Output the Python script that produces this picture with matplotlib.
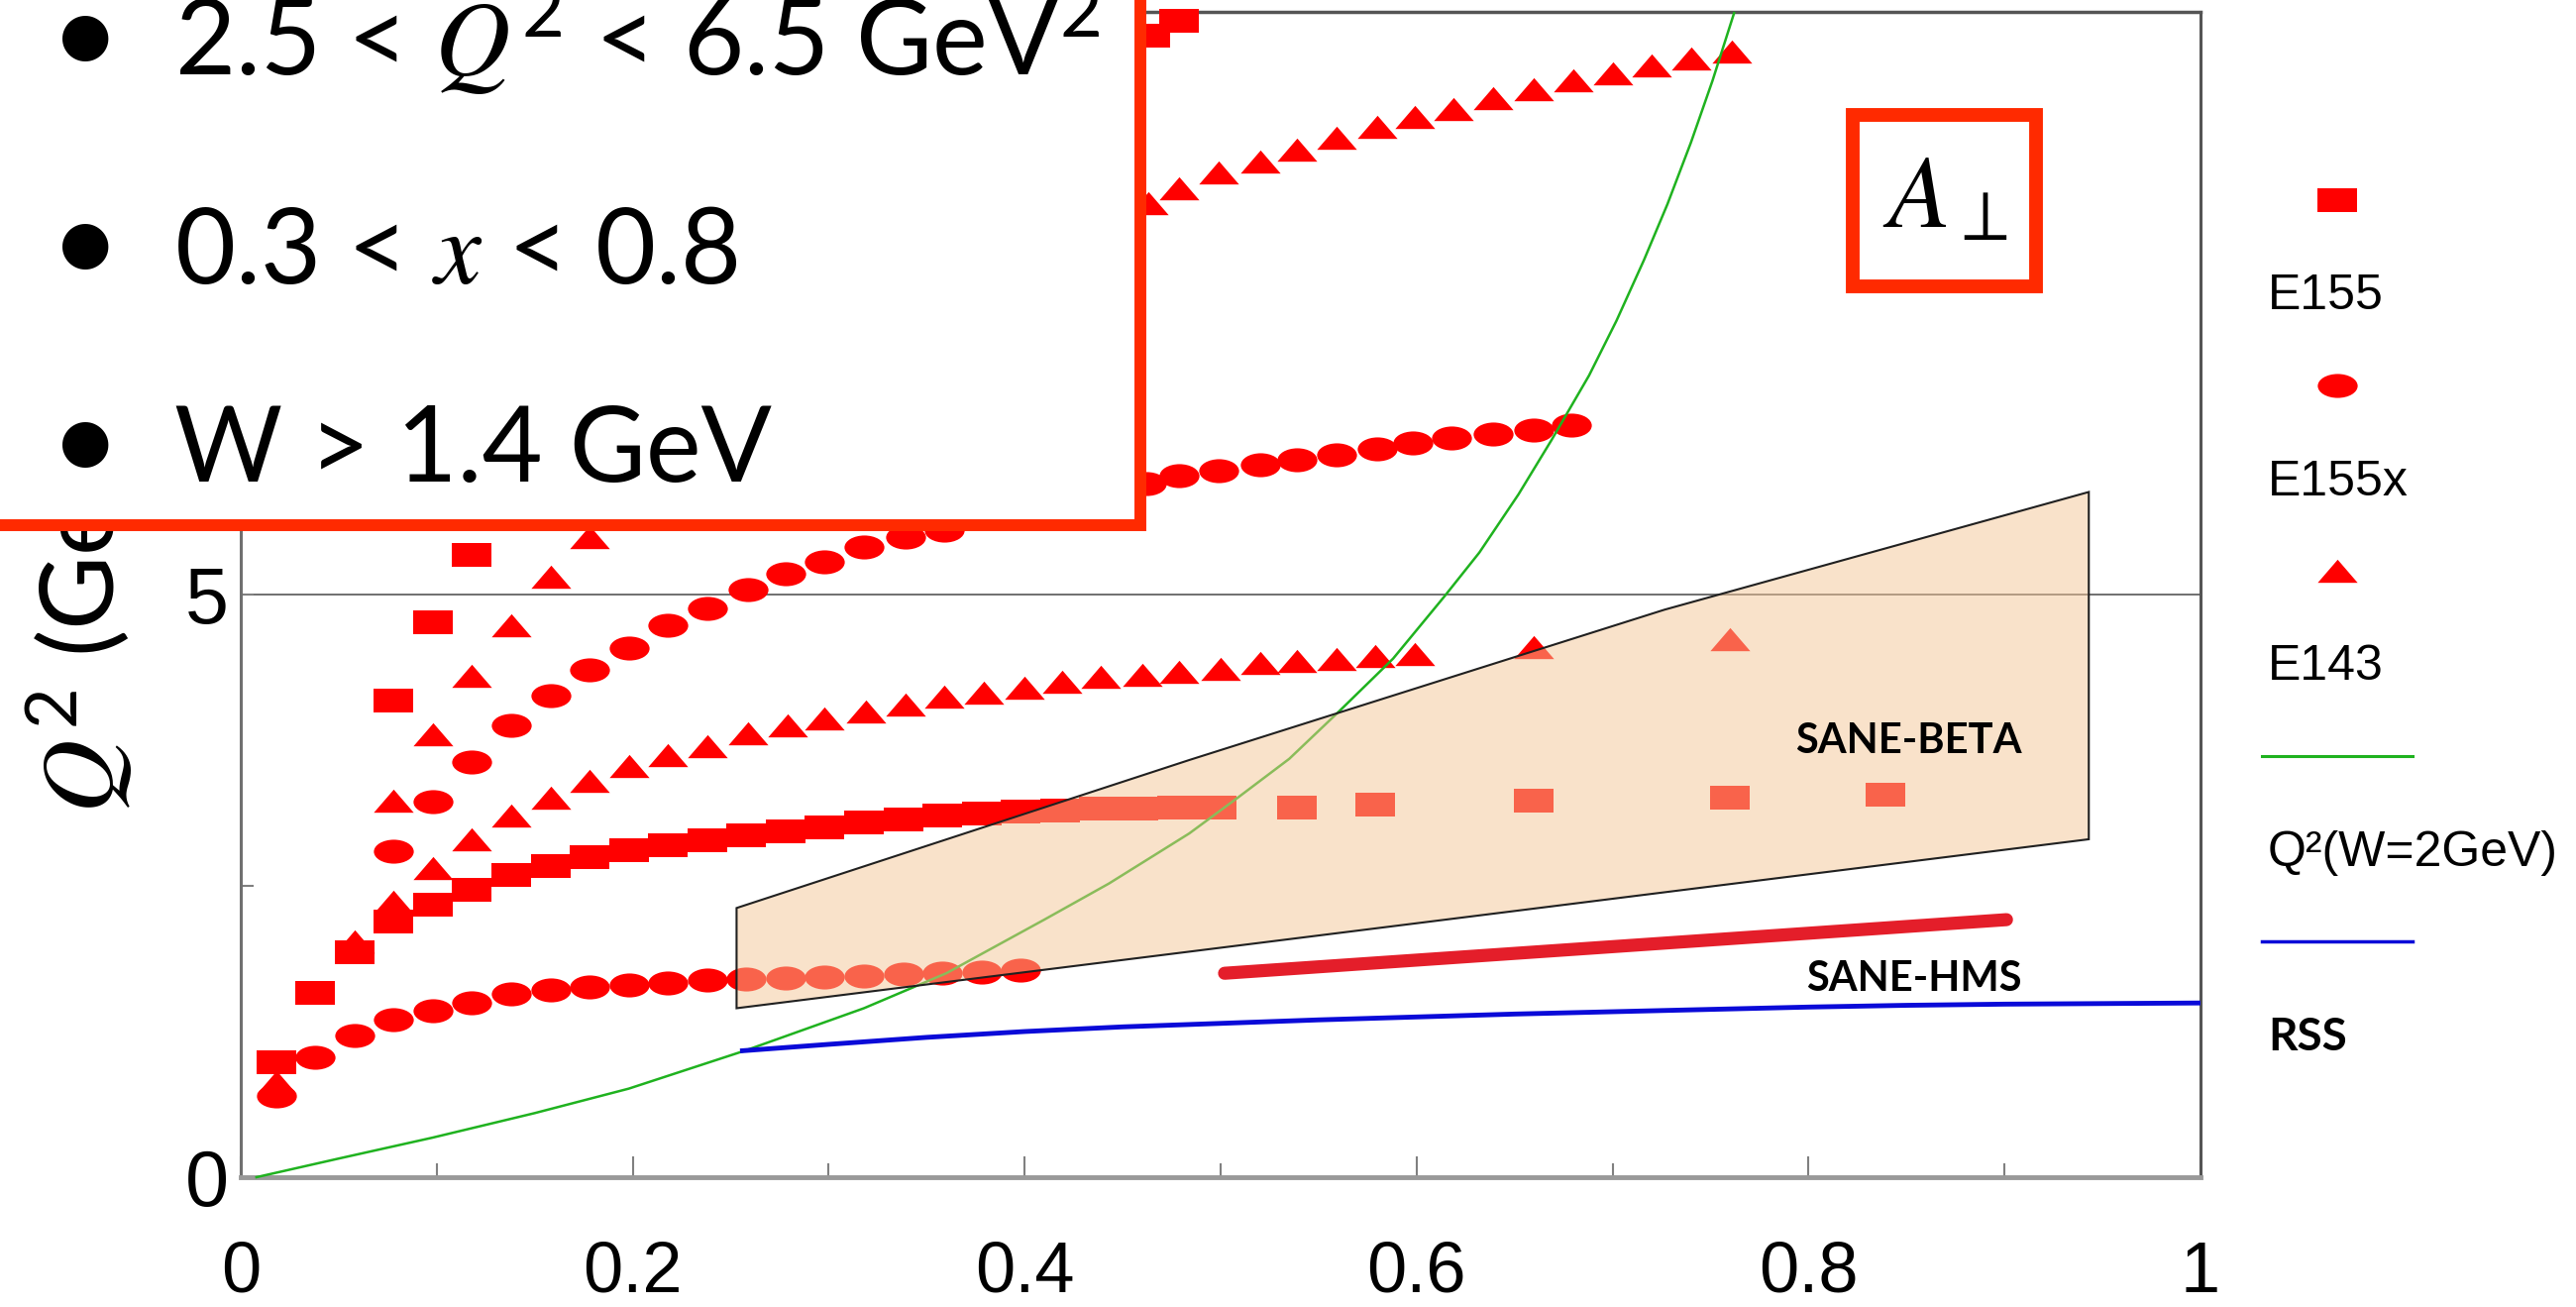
import numpy as np
import matplotlib
matplotlib.use("Agg")
import matplotlib.pyplot as plt
from matplotlib.path import Path
from matplotlib.patches import Polygon, Rectangle
from matplotlib.lines import Line2D

plt.rcParams['font.family'] = ['Liberation Sans', 'DejaVu Sans']
plt.rcParams['mathtext.fontset'] = 'custom'
plt.rcParams['mathtext.rm'] = 'Lato'
plt.rcParams['mathtext.sf'] = 'Lato'
plt.rcParams['mathtext.it'] = 'STIXGeneral:italic'
plt.rcParams['mathtext.bf'] = 'Lato:bold'
plt.rcParams['mathtext.fallback'] = 'stix'

# ---------------- data ----------------
# E155 (squares)
e155_a_x = [0.018, 0.038, 0.058, 0.078, 0.098, 0.118, 0.138, 0.158, 0.178, 0.198,
            0.218, 0.238, 0.258, 0.278, 0.298, 0.318, 0.338, 0.358, 0.378, 0.398,
            0.418, 0.438, 0.458, 0.478, 0.498, 0.539, 0.579, 0.660, 0.760, 0.839]
e155_a_y = [0.99, 1.58, 1.93, 2.19, 2.34, 2.47, 2.59, 2.67, 2.75, 2.81,
            2.85, 2.89, 2.93, 2.97, 3.00, 3.04, 3.07, 3.10, 3.12, 3.14,
            3.15, 3.16, 3.16, 3.17, 3.17, 3.17, 3.20, 3.23, 3.26, 3.28]
e155_b_x = [0.078, 0.098, 0.118, 0.464, 0.479]
e155_b_y = [4.09, 4.76, 5.34, 9.80, 9.92]

# E155x (circles)
e155x_a_x = [0.018, 0.038, 0.058, 0.078, 0.098, 0.118, 0.138, 0.158, 0.178, 0.198,
             0.218, 0.238, 0.258, 0.278, 0.298, 0.318, 0.338, 0.358, 0.378, 0.398]
e155x_a_y = [0.70, 1.03, 1.22, 1.35, 1.43, 1.50, 1.57, 1.61, 1.635, 1.65,
             1.67, 1.69, 1.70, 1.71, 1.72, 1.73, 1.74, 1.75, 1.76, 1.78]
e155x_b_x = [0.078, 0.098, 0.118, 0.138, 0.158, 0.178, 0.198, 0.218, 0.238, 0.259,
             0.278, 0.298, 0.318, 0.339, 0.359, 0.462, 0.479, 0.499, 0.520, 0.539,
             0.559, 0.580, 0.598, 0.618, 0.639, 0.660, 0.679]
e155x_b_y = [2.80, 3.22, 3.56, 3.88, 4.13, 4.35, 4.54, 4.74, 4.88, 5.04,
             5.18, 5.28, 5.41, 5.49, 5.55, 5.95, 6.02, 6.06, 6.11, 6.16,
             6.20, 6.25, 6.30, 6.34, 6.38, 6.41, 6.45]

# E143 (triangles)
e143_a_x = [0.018, 0.058, 0.078, 0.098, 0.118, 0.138, 0.158, 0.178, 0.198, 0.218,
            0.238, 0.259, 0.279, 0.298, 0.319, 0.339, 0.359, 0.379, 0.400, 0.419,
            0.439, 0.460, 0.479, 0.500, 0.520, 0.539, 0.559, 0.579, 0.599, 0.660, 0.760]
e143_a_y = [0.82, 2.02, 2.36, 2.65, 2.90, 3.10, 3.26, 3.40, 3.53, 3.62,
            3.70, 3.81, 3.88, 3.94, 4.00, 4.06, 4.12, 4.16, 4.20, 4.25,
            4.29, 4.31, 4.34, 4.36, 4.41, 4.43, 4.45, 4.47, 4.49, 4.55, 4.62]
e143_b_x = [0.078, 0.098, 0.118, 0.138, 0.158, 0.178, 0.463, 0.479, 0.499, 0.520,
            0.539, 0.559, 0.580, 0.599, 0.619, 0.639, 0.660, 0.680, 0.700, 0.720,
            0.740, 0.761]
e143_b_y = [3.23, 3.80, 4.30, 4.74, 5.15, 5.49, 8.36, 8.49, 8.62, 8.72,
            8.82, 8.92, 9.01, 9.10, 9.17, 9.26, 9.34, 9.41, 9.47, 9.54,
            9.60, 9.66]

# Q^2(W=2GeV) curve (green)
w2_x = [0.008, 0.05, 0.098, 0.15, 0.198, 0.258, 0.318, 0.36, 0.41, 0.443, 0.484,
        0.509, 0.535, 0.56, 0.588, 0.614, 0.632, 0.652, 0.669, 0.688, 0.702,
        0.716, 0.728, 0.74, 0.751, 0.762]
w2_y = [0.0, 0.16, 0.34, 0.55, 0.76, 1.09, 1.45, 1.75, 2.21, 2.52, 2.95,
        3.26, 3.59, 3.99, 4.45, 4.98, 5.36, 5.86, 6.33, 6.88, 7.35,
        7.87, 8.35, 8.88, 9.41, 9.99]

# RSS (blue)
rss_x = [0.256, 0.30, 0.35, 0.40, 0.45, 0.50, 0.55, 0.60, 0.65, 0.70, 0.75,
         0.80, 0.85, 0.90, 1.0]
rss_y = [1.085, 1.14, 1.20, 1.25, 1.29, 1.32, 1.35, 1.375, 1.40, 1.42, 1.44,
         1.46, 1.475, 1.485, 1.495]

# SANE-HMS band (thick red)
hms_x = [0.502, 0.901]
hms_y = [1.75, 2.21]

# SANE-BETA region
beta_x = [0.253, 0.484, 0.7265, 0.943, 0.943, 0.253]
beta_y = [2.31, 3.58, 4.87, 5.88, 2.90, 1.45]

x_ticks = [0, 0.2, 0.4, 0.6, 0.8, 1.0]
x_ticklabels = ['0', '0.2', '0.4', '0.6', '0.8', '1']
x_minor = [0.1, 0.3, 0.5, 0.7, 0.9]
y_ticks = [0, 5]
y_ticklabels = ['0', '5']
y_minor = [2.5, 7.5]

legend_labels = ['E155', 'E155x', 'E143', 'Q²(W=2GeV)', 'RSS']
box_lines = [r'2.5 < $Q^2$ < 6.5 GeV$^2$', r'0.3 < $x$ < 0.8', 'W > 1.4 GeV']

# ---------------- figure ----------------
W, H = 2600, 1319
fig = plt.figure(figsize=(W / 100, H / 100), dpi=100)
ax = fig.add_axes([243 / W, 1 - 1188 / H, 1978 / W, 1176 / H])
ax.set_xlim(0, 1)
ax.set_ylim(0, 10)

# flattened marker shapes
sq_path = Path([(-1, -0.58), (1, -0.58), (1, 0.58), (-1, 0.58), (-1, -0.58)], closed=True)
uc = Path.unit_circle()
ci_path = Path(uc.vertices * np.array([1.0, 0.6]), uc.codes)
tr_path = Path([(-1, -0.58), (1, -0.58), (0, 0.58), (-1, -0.58)], closed=True)

RED = '#ff0000'
MS = 29
mk = dict(linestyle='none', color=RED, markersize=MS, markeredgewidth=0, clip_on=False, zorder=3)

ax.axhline(5, color='#707070', lw=1.4, zorder=1)

ax.plot(e155_a_x, e155_a_y, marker=sq_path, **mk)
ax.plot(e155_b_x, e155_b_y, marker=sq_path, **mk)
ax.plot(e155x_a_x, e155x_a_y, marker=ci_path, **mk)
ax.plot(e155x_b_x, e155x_b_y, marker=ci_path, **mk)
ax.plot(e143_a_x, e143_a_y, marker=tr_path, **mk)
ax.plot(e143_b_x, e143_b_y, marker=tr_path, **mk)

GREEN = '#1fb21f'
BLUE = '#0a0ad8'
ax.plot(w2_x, w2_y, color=GREEN, lw=1.8, zorder=4, clip_on=False)

poly = Polygon(np.column_stack([beta_x, beta_y]), closed=True,
               facecolor=(245 / 255, 198 / 255, 150 / 255, 0.5),
               edgecolor='#202020', lw=1.5, zorder=5)
ax.add_patch(poly)

ax.plot(rss_x, rss_y, color=BLUE, lw=3.5, zorder=6)
ax.plot(hms_x, hms_y, color='#e41e2a', lw=9.5, solid_capstyle='round', zorder=6)

ax.text(0.851, 3.74, 'SANE-BETA', family='Lato', fontweight='bold', fontsize=30,
        ha='center', va='center', zorder=7)
ax.text(0.854, 1.70, 'SANE-HMS', family='Lato', fontweight='bold', fontsize=30,
        ha='center', va='center', zorder=7)

# ticks and spines
ax.set_xticks(x_ticks)
ax.set_xticklabels(x_ticklabels)
ax.set_xticks(x_minor, minor=True)
ax.set_yticks(y_ticks)
ax.set_yticklabels(y_ticklabels)
ax.set_yticks(y_minor, minor=True)
ax.tick_params(axis='x', which='major', direction='in', length=15, width=1.5,
               color='#808080', labelsize=52, pad=46)
ax.tick_params(axis='x', which='minor', direction='in', length=10, width=1.5, color='#808080')
ax.tick_params(axis='y', which='major', direction='in', length=9, width=1.5,
               color='#808080', labelsize=57, pad=9)
ax.tick_params(axis='y', which='minor', direction='in', length=9, width=1.5, color='#808080')
ax.spines['left'].set_color('#707070')
ax.spines['left'].set_linewidth(2.2)
ax.spines['bottom'].set_color('#999999')
ax.spines['bottom'].set_linewidth(3.5)
ax.spines['top'].set_color('#555555')
ax.spines['top'].set_linewidth(2.5)
ax.spines['right'].set_color('#555555')
ax.spines['right'].set_linewidth(2.2)

# y label (partly hidden by the red box, as in the original)
fig.text(80 / W, 1 - 821 / H, r'$Q^2$ (GeV$^2$)', rotation=90, ha='center', va='bottom',
         fontsize=74, family='Lato', zorder=1)

# legend at the right (marker rows and label rows alternate)
sq_h = Line2D([], [], ls='none', marker=sq_path, color=RED, markersize=MS, markeredgewidth=0)
ci_h = Line2D([], [], ls='none', marker=ci_path, color=RED, markersize=MS, markeredgewidth=0)
tr_h = Line2D([], [], ls='none', marker=tr_path, color=RED, markersize=MS, markeredgewidth=0)
gl_h = Line2D([], [], color=GREEN, lw=2.2)
bl_h = Line2D([], [], color=BLUE, lw=2.5)
blank = Line2D([], [], ls='none')
handles = [sq_h, blank, ci_h, blank, tr_h, blank, gl_h, blank, bl_h, blank]
labels = ['', legend_labels[0], '', legend_labels[1], '', legend_labels[2],
          '', legend_labels[3], '', legend_labels[4]]
leg = fig.legend(handles, labels, loc='upper left', bbox_to_anchor=(2283 / W, 1 - 183 / H),
                 frameon=False, handlelength=3.04, handletextpad=-2.92, labelspacing=0.95,
                 borderpad=0, borderaxespad=0, numpoints=1,
                 prop={'family': 'Liberation Sans', 'size': 36})
rss_t = leg.get_texts()[9]
rss_t.set_fontfamily('Lato')
rss_t.set_fontweight('bold')
rss_t.set_fontsize(33)

# red conditions box (top-left, partly outside the figure)
box = Rectangle((-0.02, 1 - 530 / H), 1151 / W + 0.02, 0.5, transform=fig.transFigure,
                facecolor='white', edgecolor='#ff2a00', lw=8.6, zorder=10)
fig.add_artist(box)
baselines = [76, 286, 486]
for txt, b in zip(box_lines, baselines):
    fig.text(86 / W, 1 - b / H, '•', ha='center', va='baseline', fontsize=90,
             family='Lato', zorder=11)
    fig.text(176 / W, 1 - b / H, txt, ha='left', va='baseline', fontsize=76,
             family='Lato', zorder=11)

# A_perp box
abox = Rectangle((1870 / W, 1 - 289 / H), 185 / W, 173 / H, transform=fig.transFigure,
                 facecolor='white', edgecolor='#ff2a00', lw=10, zorder=10)
fig.add_artist(abox)
fig.text(1963 / W, 1 - 229 / H, r'$A_\perp$', ha='center', va='baseline', fontsize=74,
         math_fontfamily='stix', zorder=11)

fig.savefig('out.png', dpi=100, facecolor='white')
